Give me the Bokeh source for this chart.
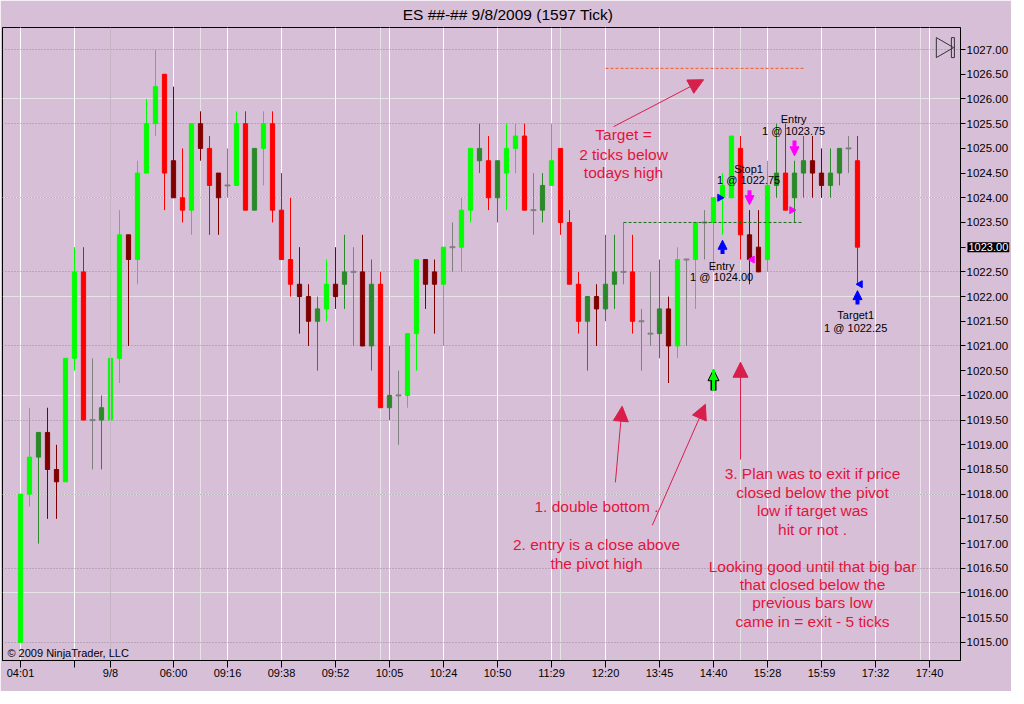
import math
from bokeh.plotting import figure
from bokeh.models import (ColumnDataSource, Range1d, LinearAxis, FixedTicker, Label,
                          Arrow, NormalHead, Span, PrintfTickFormatter, Grid)
from bokeh.embed import file_html
from bokeh.resources import INLINE
from bokeh.core.properties import value

# ---------------- data ----------------
title_text = "ES ##-##  9/8/2009 (1597 Tick)"

opens = [1015.00, 1018.00, 1018.75, 1019.25, 1018.50, 1018.25, 1020.75, 1022.50, 1019.50, 1019.50,
         1019.50, 1020.75, 1023.25, 1022.75, 1024.50, 1025.50, 1026.50, 1024.75, 1024.00, 1023.75,
         1025.50, 1025.00, 1024.50, 1024.25, 1024.25, 1025.50, 1023.75, 1025.00, 1025.50, 1023.75,
         1022.75, 1022.25, 1022.00, 1021.50, 1021.75, 1022.25, 1022.25, 1022.50, 1022.50, 1021.00,
         1022.25, 1019.75, 1020.00, 1020.00, 1021.25, 1022.75, 1022.50, 1022.25, 1023.00, 1023.00,
         1023.75, 1024.75, 1024.75, 1024.00, 1024.50, 1025.00, 1025.25, 1023.75, 1023.75, 1024.25,
         1025.00, 1023.50, 1022.25, 1021.50, 1022.00, 1021.75, 1022.25, 1022.50, 1022.50, 1021.50,
         1021.25, 1021.25, 1021.75, 1021.00, 1022.75, 1022.75, 1023.50, 1023.50, 1024.00, 1024.00,
         1025.00, 1023.25, 1023.00, 1022.75, 1024.25, 1024.50, 1024.00, 1024.50, 1024.75, 1024.50,
         1024.25, 1024.50, 1025.00, 1024.75]
highs = [1018.00, 1019.75, 1019.25, 1019.75, 1019.00, 1020.75, 1023.00, 1023.00, 1020.75, 1020.00,
         1022.00, 1023.75, 1023.25, 1024.75, 1026.00, 1027.00, 1026.50, 1026.25, 1025.00, 1025.50,
         1025.75, 1025.25, 1024.50, 1025.00, 1025.75, 1025.75, 1025.00, 1025.75, 1025.75, 1024.50,
         1024.00, 1023.00, 1022.25, 1022.00, 1022.75, 1023.00, 1023.25, 1023.00, 1023.25, 1022.75,
         1022.50, 1021.00, 1020.50, 1021.25, 1022.75, 1022.75, 1022.75, 1023.00, 1023.50, 1024.00,
         1025.00, 1025.50, 1025.25, 1024.75, 1025.50, 1025.50, 1025.50, 1024.50, 1024.50, 1025.50,
         1025.00, 1023.75, 1022.50, 1022.00, 1022.25, 1023.25, 1023.25, 1023.50, 1023.25, 1021.75,
         1022.50, 1022.75, 1022.00, 1023.00, 1022.75, 1023.50, 1023.75, 1024.00, 1024.50, 1025.25,
         1025.25, 1023.75, 1023.75, 1024.75, 1025.50, 1025.50, 1024.75, 1025.25, 1025.25, 1025.00,
         1025.00, 1025.00, 1025.25, 1025.25]
lows = [1015.00, 1017.75, 1017.00, 1017.50, 1017.50, 1018.25, 1020.50, 1019.50, 1018.50, 1018.50,
        1019.25, 1020.25, 1021.00, 1022.25, 1024.50, 1025.25, 1023.75, 1024.00, 1023.50, 1023.25,
        1024.75, 1023.25, 1023.25, 1024.00, 1024.25, 1023.75, 1023.75, 1024.25, 1023.50, 1022.75,
        1022.00, 1021.25, 1021.00, 1020.50, 1021.50, 1021.75, 1021.75, 1021.00, 1021.00, 1020.50,
        1019.75, 1019.50, 1019.00, 1019.75, 1020.50, 1021.75, 1021.25, 1021.00, 1022.50, 1022.50,
        1023.50, 1024.50, 1023.75, 1023.50, 1023.75, 1024.50, 1023.75, 1023.25, 1023.50, 1024.25,
        1023.25, 1022.25, 1021.25, 1020.50, 1021.00, 1021.50, 1021.75, 1022.25, 1021.25, 1020.50,
        1021.00, 1020.75, 1020.25, 1020.75, 1021.00, 1021.75, 1022.75, 1022.50, 1023.25, 1024.00,
        1022.75, 1022.25, 1022.50, 1022.50, 1024.00, 1023.75, 1023.50, 1024.00, 1024.00, 1024.00,
        1024.00, 1024.25, 1024.50, 1022.25]
closes = [1018.00, 1018.75, 1019.25, 1018.50, 1018.25, 1020.75, 1022.50, 1019.50, 1019.50, 1019.75,
          1020.75, 1023.25, 1022.75, 1024.50, 1025.50, 1026.25, 1024.50, 1024.00, 1023.75, 1025.50,
          1025.00, 1024.25, 1024.00, 1024.25, 1025.50, 1023.75, 1025.00, 1025.50, 1023.75, 1022.75,
          1022.25, 1022.00, 1021.50, 1021.75, 1022.25, 1022.00, 1022.50, 1022.50, 1021.00, 1022.25,
          1019.75, 1020.00, 1020.00, 1021.25, 1022.75, 1022.25, 1022.25, 1023.00, 1023.00, 1023.75,
          1025.00, 1025.00, 1024.00, 1024.75, 1025.00, 1025.25, 1023.75, 1023.75, 1024.25, 1024.75,
          1023.50, 1022.25, 1021.50, 1022.00, 1021.75, 1022.25, 1022.50, 1022.50, 1021.50, 1021.50,
          1021.25, 1021.75, 1021.00, 1022.75, 1022.75, 1023.50, 1023.50, 1024.00, 1024.25, 1025.25,
          1023.25, 1022.75, 1022.50, 1024.25, 1024.50, 1023.75, 1024.50, 1024.75, 1024.50, 1024.25,
          1024.50, 1025.00, 1025.00, 1023.00]
# bar colouring class: G up, g weak up, R down, r weak down, n unchanged
kinds = ["G", "G", "g", "r", "r", "G", "G", "R", "n", "g",
         "G", "G", "r", "G", "G", "G", "R", "r", "R", "G",
         "r", "R", "r", "n", "G", "R", "g", "G", "R", "R",
         "R", "r", "r", "g", "G", "r", "g", "n", "r", "g",
         "R", "g", "n", "G", "G", "r", "r", "G", "n", "G",
         "G", "g", "R", "g", "G", "G", "R", "n", "g", "G",
         "R", "R", "R", "g", "r", "g", "g", "n", "R", "n",
         "n", "g", "r", "G", "n", "G", "n", "G", "G", "G",
         "R", "r", "r", "G", "g", "R", "g", "g", "r", "r",
         "g", "g", "n", "R"]

x_tick_index = [0, 6, 10, 17, 23, 29, 35, 41, 47, 53, 59, 65, 71, 77, 83, 89, 95, 101]
x_tick_labels = ["04:01", "", "9/8", "06:00", "09:16", "09:38", "09:52", "10:05", "10:24",
                 "10:50", "11:29", "12:20", "13:45", "14:40", "15:28", "15:59", "17:32", "17:40"]
date_break_index = 10
y_ticks = [1015.0 + 0.5 * k for k in range(25)]
y_grid = [1015.0 + 1.5 * k for k in range(9)]
last_price = 1023.00

# drawn horizontal lines: (x0, x1, price)
target_line = (65, 87, 1026.62)
pivot_line = (67, 87, 1023.50)

# execution marks
exec_arrow_up_x = [78, 93]
exec_arrow_up_y0 = [1022.86, 1021.84]
exec_arrow_up_y1 = [1023.14, 1022.12]
exec_arrow_dn_x = [81, 86]
exec_arrow_dn_y0 = [1024.15, 1025.16]
exec_arrow_dn_y1 = [1023.86, 1024.85]
signal_arrow_x = [77]
signal_arrow_y0 = [1020.10]
signal_arrow_y1 = [1020.52]
fill_x = [77.7, 81.3, 85.7, 93.3]
fill_y = [1024.00, 1022.75, 1023.75, 1022.25]
fill_dir = ["right", "left", "right", "left"]
fill_col = ["blue", "magenta", "magenta", "blue"]
exec_text = ["Entry", "1 @ 1024.00", "Stop1", "1 @ 1022.75",
             "Entry", "1 @ 1023.75", "Target1", "1 @ 1022.25"]
exec_text_x = [77.9, 77.9, 80.9, 80.9, 85.9, 85.9, 92.8, 92.8]
exec_text_y = [1022.615, 1022.39, 1024.59, 1024.35, 1025.60, 1025.36, 1021.62, 1021.37]

# red notes
note_text = ["Target =", "2 ticks below", "todays high",
             "1. double bottom .",
             "2. entry is a close above", "the pivot high",
             "3. Plan was to exit if price", "closed below the pivot", "low if target was",
             "hit or not .",
             "Looking good until that big bar", "that closed below the",
             "previous bars low", "came in = exit - 5 ticks"]
note_x = [67.0, 67.0, 67.0, 64.0, 64.0, 64.0,
          88.0, 88.0, 88.0, 88.0, 88.0, 88.0, 88.0, 88.0]
note_y = [1025.275, 1024.87, 1024.518, 1017.745, 1016.976, 1016.603,
          1018.423, 1018.034, 1017.662, 1017.289, 1016.544, 1016.172, 1015.799, 1015.427]
note_arrow_x0 = [65.9, 66.1, 70.2, 80.0]
note_arrow_y0 = [1025.44, 1018.24, 1017.37, 1018.70]
note_arrow_x1 = [75.9, 66.85, 76.1, 80.0]
note_arrow_y1 = [1026.39, 1019.78, 1019.82, 1020.67]

# ---------------- styling ----------------
BG = "#D8BFD8"
FONT = "Liberation Sans"
NOTE = "#E2143C"
NOTE_ARROW = "#D81E4A"
kind_color = {"G": "#00FF00", "g": "#2A8A2A", "R": "#FF0000", "r": "#800000", "n": "#808080"}

p = figure(frame_width=958, frame_height=633, output_backend="svg", toolbar_location=None,
           x_range=Range1d(-2.0, 104.444), y_range=Range1d(1014.633, 1027.447),
           x_axis_location=None, y_axis_location=None,
           min_border_left=2, min_border_right=48, min_border_top=27, min_border_bottom=28)
p.background_fill_color = BG
p.border_fill_color = BG
p.outline_line_color = "black"
p.outline_line_width = 1

# title lives in the top panel so it is not clipped to the frame
p.add_layout(Label(x=54.4, y=1027.72, text=title_text, text_align="center", text_baseline="middle",
                   text_font=FONT, text_font_size="15.5px", text_color="black"), "above")

# grids
p.add_layout(Grid(dimension=0, ticker=FixedTicker(ticks=[t for t in x_tick_index if t != date_break_index]),
                  grid_line_color="white", grid_line_width=1))
p.add_layout(Span(location=date_break_index, dimension="height", line_color="#c4b4c4", line_width=1))
p.add_layout(Grid(dimension=1, ticker=FixedTicker(ticks=y_grid), grid_line_color="#9a8a9a",
                  grid_line_dash="1 2", grid_line_width=1))

# axes
yaxis = LinearAxis(ticker=FixedTicker(ticks=y_ticks), formatter=PrintfTickFormatter(format="%.2f"),
                   major_tick_out=5, major_tick_in=0, minor_tick_out=0, minor_tick_in=0,
                   axis_line_color="black", major_tick_line_color="black",
                   major_label_text_font=FONT, major_label_text_font_size="11.5px",
                   major_label_text_color="black", major_label_standoff=1)
p.add_layout(yaxis, "right")
xaxis = LinearAxis(ticker=FixedTicker(ticks=x_tick_index),
                   major_label_overrides={t: lab for t, lab in zip(x_tick_index, x_tick_labels)},
                   major_tick_out=7, major_tick_in=0, minor_tick_out=0, minor_tick_in=0,
                   axis_line_color="black", major_tick_line_color="black",
                   major_label_text_font=FONT, major_label_text_font_size="11px",
                   major_label_text_color="black", major_label_standoff=-1)
p.add_layout(xaxis, "below")

# candles
idx = list(range(len(opens)))
colors = [kind_color[k] for k in kinds]
src = ColumnDataSource(dict(x=idx, h=highs, l=lows, color=colors))
p.segment(x0="x", y0="l", x1="x", y1="h", line_color="color", line_width=1, source=src)
bx = [i for i in idx if kinds[i] != "n"]
body = ColumnDataSource(dict(x=bx,
                             top=[max(opens[i], closes[i]) for i in bx],
                             bottom=[min(opens[i], closes[i]) for i in bx],
                             color=[colors[i] for i in bx]))
p.vbar(x="x", width=0.47, top="top", bottom="bottom", fill_color="color", line_color="color",
       line_width=1, source=body)
dx = [i for i in idx if kinds[i] == "n"]
doji = ColumnDataSource(dict(x=dx, y=[opens[i] for i in dx]))
p.rect(x="x", y="y", width=0.56, height=1, height_units="screen", fill_color="#808080",
       line_color="#808080", source=doji)

# drawn lines
p.segment(x0=[target_line[0]], y0=[target_line[2]], x1=[target_line[1]], y1=[target_line[2]],
          line_color="#F05A28", line_dash="3 2", line_width=1)
p.segment(x0=[pivot_line[0]], y0=[pivot_line[2]], x1=[pivot_line[1]], y1=[pivot_line[2]],
          line_color="#1E6E1E", line_dash="3 2", line_width=1)

# execution arrows
up_src = ColumnDataSource(dict(x=exec_arrow_up_x, y0=exec_arrow_up_y0, y1=exec_arrow_up_y1))
p.add_layout(Arrow(end=NormalHead(size=9, fill_color="blue", line_color="blue"),
                   x_start="x", y_start="y0", x_end="x", y_end="y1",
                   line_color="blue", line_width=4, source=up_src))
dn_src = ColumnDataSource(dict(x=exec_arrow_dn_x, y0=exec_arrow_dn_y0, y1=exec_arrow_dn_y1))
p.add_layout(Arrow(end=NormalHead(size=9, fill_color="magenta", line_color="magenta"),
                   x_start="x", y_start="y0", x_end="x", y_end="y1",
                   line_color="magenta", line_width=4, source=dn_src))
sig_src = ColumnDataSource(dict(x=signal_arrow_x, y0=signal_arrow_y0, y1=signal_arrow_y1))
p.add_layout(Arrow(end=NormalHead(size=11, fill_color="#00FF00", line_color="black", line_width=1),
                   x_start="x", y_start="y0", x_end="x", y_end="y1",
                   line_color="black", line_width=6, source=sig_src))
p.add_layout(Arrow(end=None, x_start="x", y_start="y0", x_end="x", y_end="y1",
                   line_color="#00FF00", line_width=3, source=sig_src))

fill_src = ColumnDataSource(dict(x=fill_x, y=fill_y, color=fill_col,
                                 angle=[-math.pi / 2 if d == "right" else math.pi / 2 for d in fill_dir]))
p.scatter(x="x", y="y", marker="triangle", size=7, angle="angle", fill_color="color",
          line_color="color", source=fill_src)

p.text(x=exec_text_x, y=exec_text_y, text=exec_text, text_align="center", text_baseline="middle",
       text_font=value(FONT), text_font_size="11px", text_color="black")

# red notes
p.text(x=note_x, y=note_y, text=note_text, text_align="center", text_baseline="middle",
       text_font=value(FONT), text_font_size="15.5px", text_color=NOTE)
na_src = ColumnDataSource(dict(x0=note_arrow_x0, y0=note_arrow_y0, x1=note_arrow_x1, y1=note_arrow_y1))
p.add_layout(Arrow(end=NormalHead(size=15, fill_color=NOTE_ARROW, line_color=NOTE_ARROW),
                   x_start="x0", y_start="y0", x_end="x1", y_end="y1",
                   line_color=NOTE_ARROW, line_width=1, source=na_src))

# chart-trader icon
p.scatter(x=[102.4], y=[1027.04], marker="triangle", size=20, angle=-math.pi / 2,
          fill_color=None, line_color="#333333", line_width=1)
p.rect(x=[103.6], y=[1027.04], width=3, height=20, width_units="screen", height_units="screen",
       fill_color=None, line_color="#333333")

p.add_layout(Label(x=-1.45, y=1014.775, text="\u00a9 2009 NinjaTrader, LLC", text_align="left",
                   text_baseline="middle", text_font=FONT, text_font_size="11px", text_color="black"))
# last-price marker sits over the price axis, so it lives in a side panel (not clipped to the frame)
p.add_layout(Label(x=104.444, y=last_price, text="%.2f" % last_price, x_offset=7, text_align="left",
                   text_baseline="middle", text_font=FONT, text_font_size="11px", text_color="white",
                   background_fill_color="black", padding=1), "below")

open("out.html", "w").write(file_html(p, INLINE))
